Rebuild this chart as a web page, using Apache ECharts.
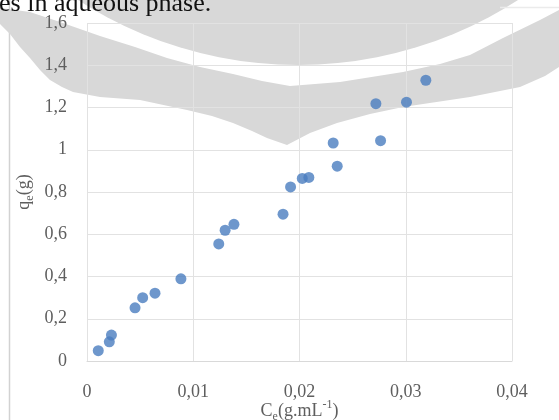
<!DOCTYPE html>
<html>
<head>
<meta charset="utf-8">
<script src="https://cdn.jsdelivr.net/npm/echarts@6/dist/echarts.min.js"></script>
<style>
  html, body { margin: 0; padding: 0; background: #fff; }
  #chart { width: 559px; height: 420px; }
</style>
</head>
<body>
<div id="chart"></div>
<script>
// Equilibrium concentration Ce (g/mL) and adsorbed amount qe (g)
const ceValues = [0.00106, 0.0021, 0.0023, 0.00452, 0.00524, 0.0064, 0.00884, 0.0124, 0.0130, 0.01383,
                  0.01845, 0.01916, 0.02026, 0.02088, 0.02317, 0.02355, 0.02719, 0.02763, 0.03007, 0.03189];
const qeValues = [0.049, 0.091, 0.123, 0.252, 0.300, 0.321, 0.389, 0.554, 0.619, 0.647,
                  0.695, 0.824, 0.864, 0.869, 1.032, 0.922, 1.218, 1.043, 1.225, 1.329];

// Tick labels use a decimal comma
const xTicks = [0, 0.01, 0.02, 0.03, 0.04];
const xTickLabels = ['0', '0,01', '0,02', '0,03', '0,04'];
const yTicks = [0, 0.2, 0.4, 0.6, 0.8, 1, 1.2, 1.4, 1.6];
const yTickLabels = ['0', '0,2', '0,4', '0,6', '0,8', '1', '1,2', '1,4', '1,6'];

const serif = '"Liberation Serif", "Times New Roman", serif';
const labelGrey = '#5e5e5e';

function tickLabel(ticks, labels) {
  return function (v) {
    for (let i = 0; i < ticks.length; i++) {
      if (Math.abs(ticks[i] - v) < 1e-9) return labels[i];
    }
    return '';
  };
}

// Grey emblem printed behind the figure on the page
const shade = '#d8d8d8';
const bandUpper = [[0, 8], [30, 12], [60, 22], [100, 36], [135, 47], [167, 58], [200, 67], [233, 74],
                   [262, 81], [290, 86], [340, 82], [403, 72], [440, 64], [470, 55], [503, 38],
                   [540, 20], [559, 10]];
const bandLower = [[0, 24], [10, 34], [20, 47], [30, 58], [40, 70], [50, 80], [62, 87], [73, 92],
                   [100, 97], [140, 100], [187, 110], [212, 116], [233, 123], [252, 131], [267, 138],
                   [287, 145], [310, 133], [337, 123], [370, 114], [403, 107], [470, 97], [520, 87],
                   [545, 76], [559, 67]];
const bandPoints = bandUpper.concat(bandLower.slice().reverse());

const nameRich = {
  b: { fontSize: 18, fontFamily: serif, color: labelGrey, lineHeight: 24, verticalAlign: 'middle' },
  s: { fontSize: 12, fontFamily: serif, color: labelGrey, lineHeight: 12, verticalAlign: 'bottom' },
  p: { fontSize: 12, fontFamily: serif, color: labelGrey, lineHeight: 12, verticalAlign: 'top' }
};

const chart = echarts.init(document.getElementById('chart'), null, { renderer: 'canvas' });
chart.setOption({
  animation: false,
  backgroundColor: '#ffffff',
  grid: { left: 87, right: 47, top: 23, bottom: 59, containLabel: false, outerBoundsMode: 'none' },
  xAxis: {
    type: 'value', min: 0, max: 0.04, interval: 0.01,
    axisLine: { show: true, lineStyle: { color: '#d9d9d9', width: 1 } },
    axisTick: { show: false },
    splitLine: { show: true, lineStyle: { color: '#e2e2e2', width: 1 } },
    axisLabel: { margin: 22, fontFamily: serif, fontSize: 18, color: labelGrey,
                 formatter: tickLabel(xTicks, xTickLabels) },
    name: '{b|C}{s|e}{b|(g.mL}{p|-1}{b|)}',
    nameLocation: 'middle', nameGap: 38, nameMoveOverlap: false,
    nameTextStyle: { rich: nameRich }
  },
  yAxis: {
    type: 'value', min: 0, max: 1.6, interval: 0.2,
    axisLine: { show: false },
    axisTick: { show: false },
    splitLine: { show: true, lineStyle: { color: '#e2e2e2', width: 1 } },
    axisLabel: { margin: 20, fontFamily: serif, fontSize: 18, color: labelGrey,
                 formatter: tickLabel(yTicks, yTickLabels) },
    name: '{b|q}{s|e}{b|(g)}',
    nameLocation: 'middle', nameGap: 51, nameMoveOverlap: false,
    nameTextStyle: { rich: nameRich }
  },
  series: [{
    type: 'scatter',
    data: ceValues.map((c, i) => [c, qeValues[i]]),
    symbol: 'circle',
    symbolSize: 11,
    itemStyle: { color: '#4a7dbf' },
    z: 5
  }],
  graphic: [
    { type: 'line', silent: true, z: -30,
      shape: { x1: 9.5, y1: 0, x2: 9.5, y2: 420 },
      style: { stroke: '#d2d2d2', lineWidth: 1.5 } },
    { type: 'polygon', silent: true, z: -20,
      shape: { points: bandPoints },
      style: { fill: shade } },
    { type: 'circle', silent: true, z: -19,
      shape: { cx: 298, cy: -340, r: 405 },
      style: { fill: shade } },
    { type: 'line', silent: true, z: -18,
      shape: { x1: 500, y1: 7.5, x2: 559, y2: 7.5 },
      style: { stroke: '#ebebeb', lineWidth: 1.5 } },
    { type: 'text', silent: true, z: 50,
      x: -1, y: 4,
      style: { text: 'es in aqueous phase.', font: '26px "Liberation Serif", serif',
               fill: '#111111', verticalAlign: 'middle', align: 'left' } }
  ]
});
</script>
</body>
</html>
